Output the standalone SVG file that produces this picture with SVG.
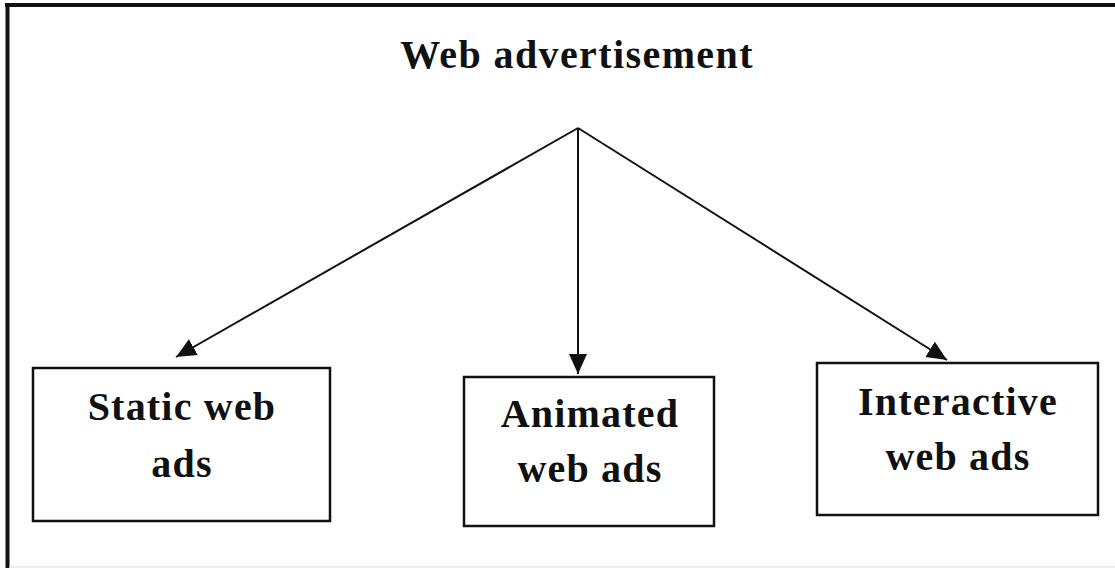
<svg xmlns="http://www.w3.org/2000/svg" width="1115" height="568" viewBox="0 0 1115 568">
  <style>
    .box { fill: #fff; stroke: #111; stroke-width: 2.5; }
    .lbl { font-family: "Liberation Serif", "Times New Roman", serif; font-weight: bold; font-size: 40px; letter-spacing: 1.2px; fill: #111; text-anchor: middle; }
    .edge { stroke: #111; stroke-width: 2; fill: none; }
  </style>
  <defs>
    <marker id="arrow" markerUnits="userSpaceOnUse" markerWidth="22" markerHeight="22" viewBox="0 0 22 22" refX="20" refY="11" orient="auto">
      <path d="M0,2 L20,11 L0,20 Z" fill="#111"/>
    </marker>
  </defs>
  <rect width="1115" height="568" fill="#fff"/>
  <g id="frame">
    <line x1="5" y1="5" x2="1115" y2="5" stroke="#111" stroke-width="4"/>
    <line x1="7.5" y1="3" x2="7.5" y2="568" stroke="#111" stroke-width="4"/>
    <line x1="9" y1="567" x2="1115" y2="567" stroke="#ddd" stroke-width="1"/>
  </g>
  <g id="title">
    <text class="lbl" x="577" y="68" style="letter-spacing:1.4px">Web advertisement</text>
  </g>
  <g id="connectors">
    <line class="edge" x1="578" y1="128" x2="176" y2="357" marker-end="url(#arrow)"/>
    <line class="edge" x1="578" y1="128" x2="578" y2="374" marker-end="url(#arrow)"/>
    <line class="edge" x1="578" y1="128" x2="947" y2="360" marker-end="url(#arrow)"/>
  </g>
  <g id="static">
    <rect class="box" x="33" y="368" width="297" height="153"/>
    <text class="lbl" x="182" y="420">Static web</text>
    <text class="lbl" x="182" y="477">ads</text>
  </g>
  <g id="animated">
    <rect class="box" x="464" y="377" width="250" height="149"/>
    <text class="lbl" x="590" y="427">Animated</text>
    <text class="lbl" x="590" y="482">web ads</text>
  </g>
  <g id="interactive">
    <rect class="box" x="817" y="363" width="281" height="152"/>
    <text class="lbl" x="958" y="415">Interactive</text>
    <text class="lbl" x="958" y="470">web ads</text>
  </g>
</svg>
